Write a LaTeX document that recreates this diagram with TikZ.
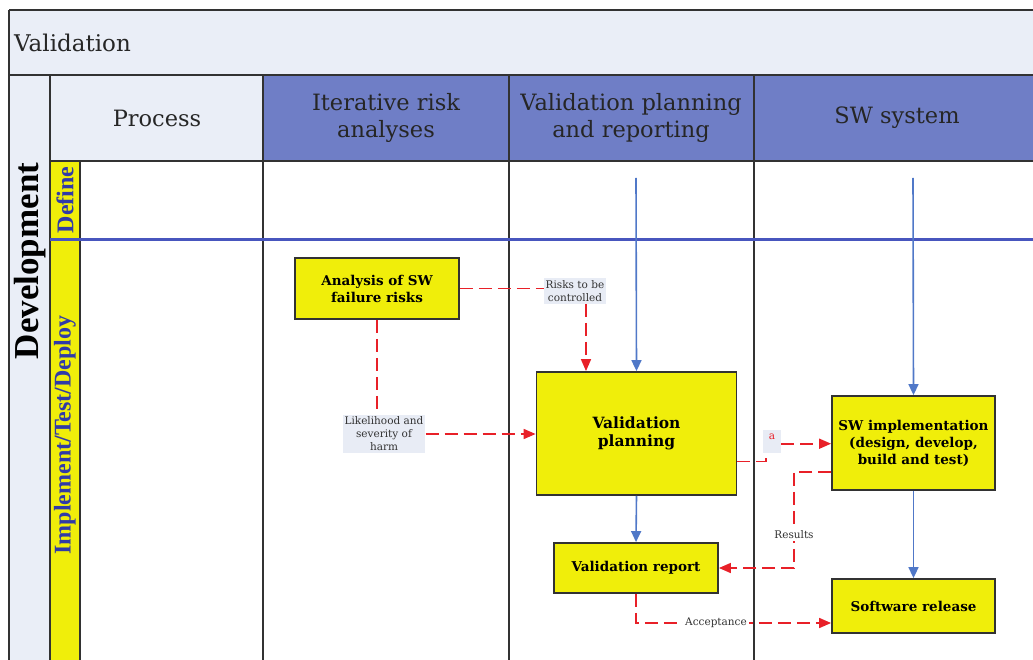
\documentclass[tikz,border=0pt]{standalone}
\usepackage{fontspec}
\setmainfont{DejaVu Serif}
\newfontfamily\timesf{Liberation Serif}
\usetikzlibrary{arrows.meta}
\definecolor{hdrlight}{RGB}{234,238,247}
\definecolor{hdrblue}{RGB}{111,126,198}
\definecolor{phaseyellow}{RGB}{240,238,10}
\definecolor{boxyellow}{RGB}{240,238,10}
\definecolor{gridgray}{RGB}{50,50,50}
\definecolor{sepblue}{RGB}{72,86,190}
\definecolor{arrblue}{RGB}{80,120,200}
\definecolor{dashred}{RGB}{232,32,40}
\definecolor{phasetext}{RGB}{48,58,168}
\definecolor{lblbg}{RGB}{232,236,245}
\tikzset{
  gridline/.style={draw=gridgray, line width=1.7pt},
  sepline/.style={draw=sepblue, line width=3pt},
  hdrtext/.style={align=center, font=\fontsize{22.5}{27}\selectfont, text=black!85},
  phaselbl/.style={rotate=90, text=phasetext, font=\timesf\bfseries\fontsize{24}{26}\selectfont},
  stepbox/.style={draw=gridgray, line width=1.8pt, fill=boxyellow, align=center, inner sep=2pt},
  bluearr/.style={draw=arrblue, line width=1.6pt, -{Triangle[length=11pt,width=10pt]}},
  reddash/.style={draw=dashred, line width=1.6pt, dash pattern=on 13pt off 6pt},
  redarr/.style={reddash, -{Triangle[length=12pt,width=10pt]}},
  smalllbl/.style={font=\fontsize{10.5}{13}\selectfont, align=center, text=black!80, inner sep=2pt},
}
\begin{document}
\begin{tikzpicture}[x=1pt,y=-1pt]
\useasboundingbox (0,0) rectangle (1033,660);
\begin{scope}
\clip (0,0) rectangle (1033,660);
\fill[white] (0,0) rectangle (1033,660);
\fill[hdrlight] (9,10) rectangle (1040,75);
\fill[hdrlight] (9,75) rectangle (50,670);
\fill[hdrlight] (50,75) rectangle (263,161);
\fill[hdrblue] (263,75) rectangle (1040,161);
\fill[phaseyellow] (50,161) rectangle (80,670);
\draw[gridline] (9,10) -- (1040,10);
\draw[gridline] (9,10) -- (9,670);
\draw[gridline] (9,75) -- (1040,75);
\draw[gridline] (50,75) -- (50,670);
\draw[gridline] (50,161) -- (1040,161);
\draw[gridline] (80,161) -- (80,670);
\draw[gridline] (263,75) -- (263,670);
\draw[gridline] (509,75) -- (509,670);
\draw[gridline] (754,75) -- (754,670);
\draw[sepline] (50,240) -- (1040,240);
\end{scope}

% titles
\node[anchor=west, font=\fontsize{23}{27}\selectfont, text=black!85, inner sep=0pt] (valtitle) at (14,43) {Validation};
\node[hdrtext] (hproc) at (157,118) {Process};
\node[hdrtext] (hrisk) at (386,118) {Iterative risk\\analyses};
\node[hdrtext] (hplan) at (631,118) {Validation planning\\and reporting};
\node[hdrtext] (hsw) at (897,118) {SW system};
\node[rotate=90, font=\timesf\bfseries\fontsize{35}{40}\selectfont] (dev) at (30,261) {Development};
\node[phaselbl] (pdef) at (65,200) {Define};
\node[phaselbl] (pimp) at (65,435) {Implement/Test/Deploy};

% boxes
\node[stepbox, minimum width=164pt, minimum height=61pt, font=\bfseries\fontsize{13.5}{17}\selectfont] (afr) at (377,288.5) {Analysis of SW\\failure risks};
\node[stepbox, minimum width=200pt, minimum height=123pt, font=\bfseries\fontsize{15.5}{18}\selectfont] (vp) at (636.5,433.5) {Validation\\planning};
\node[stepbox, minimum width=163pt, minimum height=94pt, font=\bfseries\fontsize{13.5}{17}\selectfont] (swi) at (913.5,443) {SW implementation\\(design, develop,\\build and test)};
\node[stepbox, minimum width=164pt, minimum height=50pt, font=\bfseries\fontsize{13.5}{17}\selectfont] (vr) at (636,568) {Validation report};
\node[stepbox, minimum width=163pt, minimum height=54pt, font=\bfseries\fontsize{13.5}{17}\selectfont] (sr) at (913.5,606) {Software release};

% labels
\node[smalllbl, fill=lblbg] (risklbl) at (575,291) {Risks to be\\controlled};
\node[smalllbl, fill=lblbg] (likelbl) at (384,434) {Likelihood and\\severity of\\harm};
\node[smalllbl, fill=lblbg, text=dashred, minimum width=18pt, minimum height=23pt, anchor=north, text depth=10pt] (alabel) at (772,430) {a};

% start points of blue arrows
\coordinate (vpstart) at (636,178);
\coordinate (swstart) at (913,178);
\coordinate (rescorner) at (794,568);

% blue arrows
\draw[bluearr] (vpstart) -- (vp.north);
\draw[bluearr] (swstart) -- (swi.north);
\draw[bluearr] (vp.south) -- (vr.north);
\draw[bluearr] (swi.south) -- (sr.north);

% red dashed
\draw[reddash] (afr.east) -- (afr.east -| risklbl.west);
\draw[redarr] ([xshift=11pt]risklbl.south) -- ([xshift=11pt]risklbl.south |- vp.north);
\draw[reddash] (afr.south) -- (afr.south |- likelbl.north);
\draw[redarr] (likelbl.east) -- (likelbl.east -| vp.west);
\draw[reddash] ([yshift=-28pt]vp.east) -| ([xshift=-6pt]alabel.south);
\draw[redarr] ([yshift=-2pt]alabel.east) -- ([yshift=-2pt]alabel.east -| swi.west);
\draw[redarr] ([yshift=-29pt]swi.west) -| (rescorner) -- (vr.east);
\draw[redarr] (vr.south) |- ([yshift=-17pt]sr.west);

\node[smalllbl, fill=white] (reslbl) at (794,535) {Results};
\node[smalllbl, fill=white] (acclbl) at (716,623) {Acceptance};
\end{tikzpicture}
\end{document}
